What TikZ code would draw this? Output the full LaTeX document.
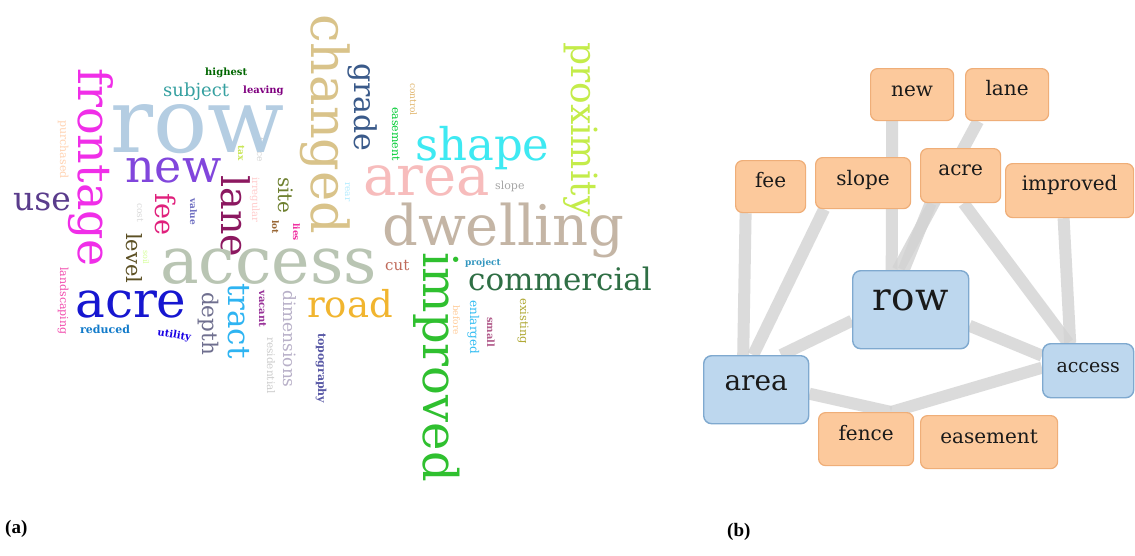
\documentclass[tikz,border=0pt]{standalone}
\usepackage{fontspec}
\setmainfont{DejaVu Serif}
\newfontfamily\labfont{Liberation Serif}
\usetikzlibrary{calc}
\pgfdeclarelayer{bg}
\pgfsetlayers{bg,main}
\newcommand{\fsz}[1]{\fontsize{#1}{#1}\selectfont}
\definecolor{crow}{HTML}{B4CDE2}
\definecolor{cfront}{HTML}{F02EE8}
\definecolor{cchanged}{HTML}{D9C38A}
\definecolor{caccess}{HTML}{B9C5B3}
\definecolor{cdwell}{HTML}{C4B5A5}
\definecolor{carea}{HTML}{F7BCBC}
\definecolor{cshape}{HTML}{3EE9F2}
\definecolor{cprox}{HTML}{C4EC4A}
\definecolor{cimpr}{HTML}{2FC02F}
\definecolor{ccomm}{HTML}{2F6F45}
\definecolor{croad}{HTML}{F1B52F}
\definecolor{cacre}{HTML}{1616D0}
\definecolor{cnew}{HTML}{8146DC}
\definecolor{cuse}{HTML}{5A3C8C}
\definecolor{cgrade}{HTML}{3A5A8A}
\definecolor{clane}{HTML}{8C1860}
\definecolor{cfee}{HTML}{E0207C}
\definecolor{ctract}{HTML}{2EB4F2}
\definecolor{cdepth}{HTML}{6F6F8F}
\definecolor{clevel}{HTML}{5C5024}
\definecolor{csubj}{HTML}{35A0A0}
\definecolor{cdim}{HTML}{B8B0C8}
\definecolor{csite}{HTML}{6E8030}
\definecolor{ccut}{HTML}{C06A5A}
\definecolor{forange}{HTML}{FCC99C}
\definecolor{borange}{HTML}{EFAE78}
\definecolor{fblue}{HTML}{BDD7EE}
\definecolor{bblue}{HTML}{7FA9CF}
\definecolor{egray}{HTML}{D3D3D3}
\definecolor{txt}{HTML}{1A1A1A}
\tikzset{
  w/.style={inner sep=0pt, anchor=base west},
  v/.style={inner sep=0pt, anchor=base west, rotate=-90},
  obox/.style={draw=borange, fill=forange, rounded corners=7pt, line width=1.2pt,
    inner sep=0pt, anchor=north west, font=\fsz{20}, text=txt},
  bbox/.style={draw=bblue, fill=fblue, rounded corners=8pt, line width=1.4pt,
    inner sep=0pt, anchor=north west, text=txt},
  link/.style={line width=12pt, draw=egray, opacity=0.8},
  tag/.style={inner sep=0pt, anchor=base west, font=\labfont\bfseries\fsz{19}}
}
\begin{document}
\begin{tikzpicture}[x=1pt,y=-1pt]
\useasboundingbox (0,0) rectangle (1135,555);
% ---------------- (a) word cloud ----------------
% small words
\node[v, text=cchanged!80!orange, font=\fsz{9}] (wcontrol) at (410,83) {control};
\node[v, text=green!60!teal, font=\fsz{11}] (weasement) at (392,107) {easement};
\node[v, text=red!15!orange!30!white, font=\fsz{11}] (wpurch) at (60,120) {purchased};
\node[v, text=gray!35, font=\fsz{9}] (wfence) at (257,137) {fence};
\node[v, text=yellow!70!green!70, font=\bfseries\fsz{9}] (wtax) at (238,145) {tax};
\node[v, text=pink!80, font=\fsz{10}] (wirreg) at (252,177) {irregular};
\node[v, text=blue!25!cyan!30, font=\fsz{9}] (wrear) at (345,182) {rear};
\node[v, text=blue!40!gray!80, font=\bfseries\fsz{9}] (wvalue) at (190,198) {value};
\node[v, text=gray!30, font=\fsz{9}] (wcost) at (137,203) {cost};
\node[v, text=brown!80!black, font=\bfseries\fsz{9}] (wlot) at (272,220) {lot};
\node[v, text=magenta!80, font=\bfseries\fsz{9}] (wlies) at (293,223) {lies};
\node[v, text=green!40!yellow!40, font=\fsz{8}] (wsoil) at (143,250) {soil};
\node[v, text=magenta!70, font=\fsz{11}] (wland) at (60,267) {landscaping};
\node[v, text=violet!80, font=\bfseries\fsz{10}] (wvacant) at (259,290) {vacant};
\node[v, text=gray!40, font=\fsz{10.5}] (wresid) at (267,337) {residential};
\node[v, text=blue!30!gray, font=\bfseries\fsz{11}] (wtopo) at (318,333) {topography};
\node[v, text=orange!40, font=\fsz{9}] (wbefore) at (453,305) {before};
\node[v, text=cyan!80, font=\fsz{12}] (wenl) at (470,300) {enlarged};
\node[v, text=magenta!60!black!80, font=\bfseries\fsz{10}] (wsmall) at (487,317) {small};
\node[v, text=olive!70, font=\fsz{11.5}] (wexist) at (520,298) {existing};
\node[w, text=green!40!black, font=\bfseries\fsz{10}] (whigh) at (205,75) {highest};
\node[w, text=violet, font=\bfseries\fsz{10}] (wleav) at (243,93) {leaving};
\node[w, text=cyan!60!blue, font=\bfseries\fsz{11}] (wred) at (80,333) {reduced};
\node[w, text=blue!80!violet, font=\bfseries\fsz{10}, rotate=-10] (wutil) at (157,335) {utility};
\node[w, text=gray!70, font=\fsz{11}] (wslope) at (495,189) {slope};
\node[w, text=cyan!50!teal, font=\bfseries\fsz{9}] (wproj) at (465,265) {project};
% medium words
\node[w, text=csubj, font=\fsz{18}] (wsubj) at (163,96) {subject};
\node[w, text=ccut, font=\fsz{15}] (wcut) at (385,270) {cut};
\node[v, text=csite, font=\fsz{20}] (wsite) at (278,177) {site};
\node[v, text=clevel, font=\fsz{21}] (wlevel) at (126,233) {level};
\node[v, text=cdepth, font=\fsz{21.5}] (wdepth) at (202,292) {depth};
\node[v, text=cdim, font=\fsz{17}] (wdim) at (283,290) {dimensions};
\node[v, text=cfee, font=\fsz{27}] (wfee) at (155,193) {fee};
\node[v, text=clane, font=\fsz{38}] (wlane) at (221,175) {lane};
\node[v, text=cgrade, font=\fsz{30}] (wgrade) at (354,63) {grade};
\node[v, text=ctract, font=\fsz{31}] (wtract) at (228,283) {tract};
\node[w, text=cuse, font=\fsz{33}] (wuse) at (13,210) {use};
\node[w, text=croad, font=\fsz{37}] (wroad) at (307,317) {road};
\node[w, text=ccomm, font=\fsz{31}] (wcomm) at (468,290) {commercial};
% large words
\node[v, text=cprox, font=\fsz{36}] (wprox) at (571,42) {proximity};
\node[v, text=cchanged, font=\fsz{51}] (wchanged) at (311,14) {changed};
\node[v, text=cfront, font=\fsz{46}] (wfront) at (78,68) {frontage};
\node[w, text=crow, font=\fsz{90}] (wrow) at (110,152) {row};
\node[w, text=cshape, font=\fsz{45}] (wshape) at (415,160) {shape};
\node[w, text=carea, font=\fsz{56}] (warea) at (363,195) {area};
\node[w, text=cdwell, font=\fsz{56}] (wdwell) at (382,245) {dwelling};
\node[w, text=caccess, font=\fsz{65}] (waccess) at (160,283) {access};
\node[w, text=cnew, font=\fsz{46}] (wnew) at (125,182) {new};
\node[w, text=cacre, font=\fsz{50}] (wacre) at (75,317) {acre};
\node[v, text=cimpr, font=\fsz{48}] (wimpr) at (423,252) {improved};
\node[tag] (la) at (5,533) {(a)};
% ---------------- (b) network ----------------
\node[obox, minimum width=83pt, text height=28pt, text depth=24pt] (new) at (870,68) {new};
\node[obox, minimum width=83pt, text height=27pt, text depth=25pt] (lane) at (965,68) {lane};
\node[obox, minimum width=70pt, text height=27pt, text depth=25pt] (fee) at (735,160) {fee};
\node[obox, minimum width=95pt, text height=28pt, text depth=23pt] (slope) at (815,157) {slope};
\node[obox, minimum width=80pt, text height=27pt, text depth=27pt] (acre) at (920,148) {acre};
\node[obox, minimum width=128pt, text height=27pt, text depth=27pt] (improved) at (1005,163) {improved};
\node[bbox, minimum width=116pt, text height=40pt, text depth=38pt, font=\fsz{39}] (row) at (852,270) {row};
\node[bbox, minimum width=105pt, text height=35pt, text depth=33pt, font=\fsz{28}] (area) at (703,355) {area};
\node[bbox, minimum width=91pt, text height=29pt, text depth=25pt, font=\fsz{19}] (access) at (1042,343) {access};
\node[obox, minimum width=95pt, text height=28pt, text depth=25pt] (fence) at (818,412) {fence};
\node[obox, minimum width=137pt, text height=28pt, text depth=25pt] (easement) at (920,415) {easement};
\node[tag] (lb) at (727,536) {(b)};
\begin{pgfonlayer}{bg}
\fill[white] (0,0) rectangle (1135,555);
\draw[link] ($(new.south)+(-20,0)$) -- ($(row.north)+(-19,0)$);
\draw[link] ($(lane.south)+(-29,0)$) -- ($(row.north)+(-13,0)$);
\draw[link] ($(acre.south)+(-30,0)$) -- ($(row.north)+(-7,0)$);
\draw[link] ($(slope.south)+(-39,0)$) -- ($(area.north)+(-3,0)$);
\draw[link] ($(fee.south)+(-25,0)$) -- ($(area.north)+(-13,0)$);
\draw[link] ($(acre.south)+(3,0)$) -- ($(access.north)+(-20,0)$);
\draw[link] ($(improved.south)+(-6,0)$) -- ($(access.north)+(-18,0)$);
\draw[link] ($(row.east)+(0,16)$) -- ($(access.west)+(0,-15)$);
\draw[link] ($(row.west)+(0,11)$) -- ($(area.north)+(25,0)$);
\draw[link] ($(area.east)+(0,4)$) -- ($(fence.north)+(25,0)$);
\draw[link] ($(access.west)+(0,-3)$) -- ($(fence.north)+(25,0)$);
\end{pgfonlayer}
\end{tikzpicture}
\end{document}
